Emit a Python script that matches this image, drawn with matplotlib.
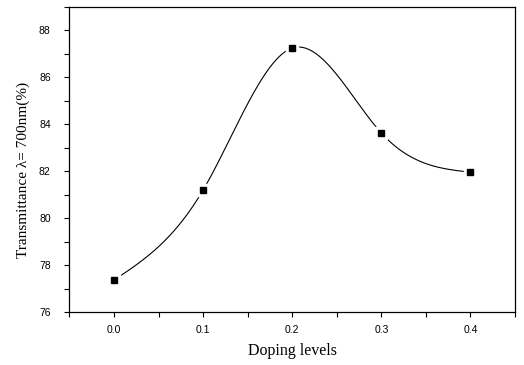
import matplotlib.pyplot as plt
import matplotlib
import numpy as np
from matplotlib.ticker import MultipleLocator

matplotlib.rcParams.update(
    {
        'font.family': 'Liberation Sans',
        'font.size': 7.5,
    }
)

doping = [0.0, 0.1, 0.2, 0.3, 0.4]
transmittance = [77.36, 81.2, 87.25, 83.63, 81.96]


def natural_spline(xs, ys, n=300):
    # natural cubic spline, like Origin's "spline" connect line
    xs = np.asarray(xs, float)
    ys = np.asarray(ys, float)
    k = len(xs)
    h = np.diff(xs)
    A = np.zeros((k, k))
    b = np.zeros(k)
    A[0, 0] = A[-1, -1] = 1
    for i in range(1, k - 1):
        A[i, i - 1] = h[i - 1]
        A[i, i] = 2 * (h[i - 1] + h[i])
        A[i, i + 1] = h[i]
        b[i] = 6 * ((ys[i + 1] - ys[i]) / h[i] - (ys[i] - ys[i - 1]) / h[i - 1])
    m = np.linalg.solve(A, b)
    xx = np.linspace(xs[0], xs[-1], n)
    idx = np.clip(np.searchsorted(xs, xx) - 1, 0, k - 2)
    x0, x1 = xs[idx], xs[idx + 1]
    hh = x1 - x0
    t0, t1 = x1 - xx, xx - x0
    yy = (m[idx] * t0 ** 3 + m[idx + 1] * t1 ** 3) / (6 * hh) \
        + (ys[idx] / hh - m[idx] * hh / 6) * t0 \
        + (ys[idx + 1] / hh - m[idx + 1] * hh / 6) * t1
    return xx, yy


fig = plt.figure(figsize=(5.24, 3.65), dpi=100)
ax = fig.add_axes([0.1326, 0.1452, 0.8502, 0.8356])

sx, sy = natural_spline(doping, transmittance)
ax.plot(sx, sy, color='black', linewidth=0.8, zorder=2)
# white halo so the line stops short of each symbol
ax.plot(doping, transmittance, 's', ms=8.5, color='white', zorder=3)
ax.plot(doping, transmittance, 's', ms=5, color='black', zorder=4)

ax.set_xlim(-0.05, 0.45)
ax.set_ylim(76, 89)
ax.xaxis.set_major_locator(MultipleLocator(0.1))
ax.xaxis.set_minor_locator(MultipleLocator(0.05))
ax.yaxis.set_major_locator(MultipleLocator(2))
ax.yaxis.set_minor_locator(MultipleLocator(1))
ax.xaxis.set_major_formatter(matplotlib.ticker.FormatStrFormatter('%.1f'))
ax.tick_params(which='both', direction='out', length=3.5, width=0.8,
               top=False, right=False)
ax.tick_params(axis='x', pad=5.5)
ax.tick_params(axis='y', pad=10)
for sp in ax.spines.values():
    sp.set_linewidth(0.9)

ax.set_xlabel('Doping levels', family='Liberation Serif', fontsize=11.5)
ax.set_ylabel('Transmittance \u03bb= 700nm(%)', family='Liberation Serif',
              fontsize=11)
ax.xaxis.set_label_coords(0.5, -0.1)
ax.yaxis.set_label_coords(-0.089, 0.465)

fig.savefig('out.png', dpi=100)
